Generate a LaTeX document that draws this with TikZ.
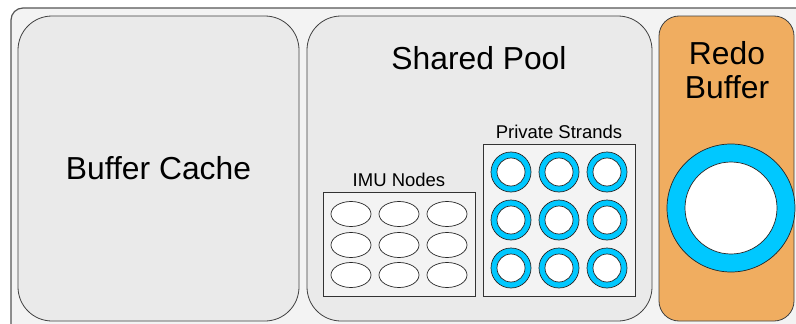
\documentclass[tikz,border=0pt]{standalone}
\usepackage{fontspec}
\setmainfont{Liberation Sans}
\usetikzlibrary{positioning,shapes.geometric}

\definecolor{sgaline}{RGB}{85,85,85}
\definecolor{sgafill}{RGB}{243,243,243}
\definecolor{poolfill}{RGB}{234,234,234}
\definecolor{redofill}{RGB}{240,173,96}
\definecolor{strandblue}{RGB}{0,200,255}

\tikzset{
  pool/.style={draw=black!75, fill=poolfill, line width=0.8pt, rounded corners=34pt,
    minimum height=305pt, inner sep=0pt},
  holder/.style={draw=black!80, fill=sgafill, line width=0.8pt, inner sep=0pt},
  imu/.style={ellipse, draw=black!85, fill=white, line width=0.7pt,
    minimum width=40pt, minimum height=25pt, inner sep=0pt},
  strand/.style={circle, draw=black!85, fill=strandblue, line width=0.7pt,
    minimum size=40pt, inner sep=0pt},
  hole/.style={circle, draw=black!85, fill=white, line width=0.7pt, inner sep=0pt},
  big/.style={font=\fontsize{31.8}{34}\selectfont},
  small/.style={font=\fontsize{18.5}{21}\selectfont}
}

\begin{document}
\begin{tikzpicture}[x=1pt, y=-1pt]
    \useasboundingbox (0,0) rectangle (796,324);
    \clip (0,0) rectangle (796,324);

    % SGA frame
    \draw[sgaline, fill=sgafill, line width=1.2pt, rounded corners=12pt] (11,8) rectangle (810,340);

    % Buffer Cache
    \node[pool, minimum width=281pt, big] (bufcache) at (158.5,168.5) {Buffer Cache};

    % Shared Pool
    \node[pool, minimum width=345pt] (shpool) at (479.5,168.5) {};
    \node[big] (shlabel) at (479,58) {Shared Pool};

    % IMU Nodes
    \node[holder, minimum width=152pt, minimum height=104pt] (imubox) at (399,244) {};
    \node[small, above=1pt of imubox] (imulabel) {IMU Nodes};
    \foreach \r/\y in {1/214,2/245,3/275}
      \foreach \c/\x in {1/351,2/399,3/447}
        \node[imu] (imu-\r-\c) at (\x,\y) {};

    % Private Strands
    \node[holder, minimum width=152pt, minimum height=152pt] (strandbox) at (559,220) {};
    \node[small, above=1pt of strandbox] (strandlabel) {Private Strands};
    \foreach \r/\y in {1/172,2/220,3/268}
      \foreach \c/\x in {1/511,2/559,3/607} {
        \node[strand] (ps-\r-\c) at (\x,\y) {};
        \node[hole, minimum size=28pt] at (ps-\r-\c) {};
      }

    % Redo Buffer
    \node[pool, fill=redofill, rounded corners=20pt, minimum width=135pt] (redo) at (726.5,168.5) {};
    \node[big, align=center] (redolabel) at (727,70) {Redo\\Buffer};
    \node[strand, minimum size=128pt] (redoring) at (731,208) {};
    \node[hole, minimum size=92pt] (redohole) at (redoring) {};
\end{tikzpicture}
\end{document}
